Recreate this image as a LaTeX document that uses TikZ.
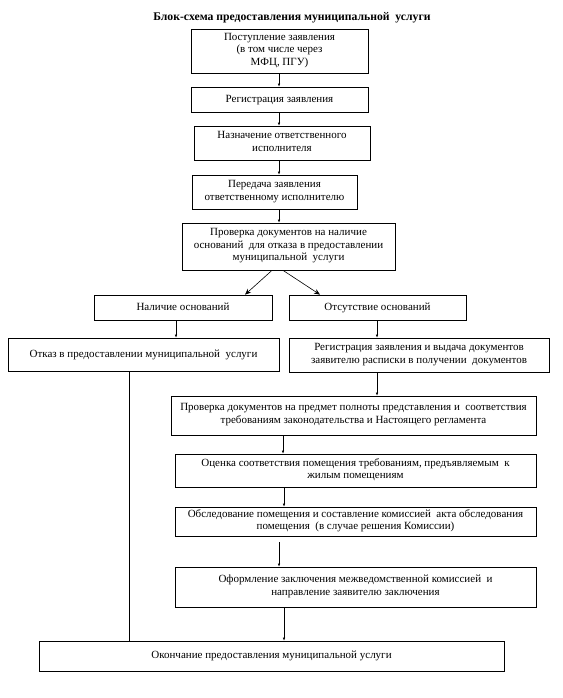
\documentclass[tikz,border=0pt]{standalone}
\usepackage{fontspec}
\setmainfont{Liberation Serif}
\usetikzlibrary{arrows.meta,shadows}
\begin{document}
\begin{tikzpicture}[x=1pt,y=-1pt,
  box/.style={draw=black,line width=0.7pt,fill=white,inner sep=0pt,align=center,
    font=\fontsize{11}{12.6}\selectfont,
    execute at begin node=\strut, execute at end node=\strut,
    drop shadow={shadow xshift=0pt,shadow yshift=-1.2pt,fill=gray!80,opacity=1}},
  arr/.style={line width=0.6pt,-{Latex[length=3pt,width=2.6pt]}},
  darr/.style={line width=0.6pt,-{Stealth[length=6pt,width=5pt]}},
  ln/.style={line width=0.7pt}]
\useasboundingbox (0,0) rectangle (562,698);
\node[font=\bfseries\fontsize{11.7}{13}\selectfont] (title) at (292,18) {Блок-схема предоставления муниципальной~ услуги};
\node[box,minimum width=177,minimum height=44] (b1) at (279.5,51) {Поступление заявления\\(в том числе через\\МФЦ, ПГУ)};
\node[box,minimum width=177,minimum height=25] (b2) at (279.5,99.5) {Регистрация заявления};
\node[box,minimum width=176,minimum height=34] (b3) at (282,143) {Назначение ответственного\\исполнителя};
\node[box,minimum width=165,minimum height=34] (b4) at (274.5,192) {Передача заявления\\ответственному исполнителю};
\node[box,minimum width=213,minimum height=47] (b5) at (288.5,246.5) {Проверка документов на наличие\\оснований~ для отказа в предоставлении\\муниципальной~ услуги};
\node[box,minimum width=178,minimum height=25] (b6) at (183,307.5) {Наличие оснований};
\node[box,minimum width=177,minimum height=25] (b7) at (377.5,307.5) {Отсутствие оснований};
\node[box,minimum width=271,minimum height=33] (b8) at (143.5,354.5) {Отказ в предоставлении муниципальной~ услуги};
\node[box,minimum width=260,minimum height=34] (b9) at (419,355) {Регистрация заявления и выдача документов\\заявителю расписки в получении~ документов};
\node[box,minimum width=365,minimum height=39] (b10) at (353.5,415.5) {Проверка документов на предмет полноты представления и~ соответствия\\требованиям законодательства и Настоящего регламента};
\node[box,minimum width=361,minimum height=33] (b11) at (355.5,470.5) {Оценка соответствия помещения требованиям, предъявляемым~ к\\жилым помещениям};
\node[box,minimum width=361,minimum height=29] (b12) at (355.5,521.5) {Обследование помещения и составление комиссией~ акта обследования\\помещения~ (в случае решения Комиссии)};
\node[box,minimum width=361,minimum height=40] (b13) at (355.5,587) {Оформление заключения межведомственной комиссией~ и\\направление заявителю заключения};
\node[box,minimum width=465,minimum height=30] (b14) at (271.5,656) {Окончание предоставления муниципальной услуги};
\coordinate (xa) at (279,0);
\coordinate (xb) at (176,0);
\coordinate (xc) at (377,0);
\coordinate (xd) at (283,0);
\coordinate (xe) at (284,0);
\coordinate (xf) at (129,0);
\coordinate (d1) at (272,0);
\coordinate (d2) at (245,0);
\coordinate (d3) at (283,0);
\coordinate (d4) at (320,0);
\draw[arr] (b1.south -| xa) -- (b2.north -| xa);
\draw[arr] (b2.south -| xa) -- (b3.north -| xa);
\draw[arr] (b3.south -| xa) -- (b4.north -| xa);
\draw[arr] (b4.south -| xa) -- (b5.north -| xa);
\draw[darr] (b5.south -| d1) -- (b6.north -| d2);
\draw[darr] (b5.south -| d3) -- (b7.north -| d4);
\draw[arr] (b6.south -| xb) -- (b8.north -| xb);
\draw[arr] (b7.south -| xc) -- (b9.north -| xc);
\draw[arr] (b9.south -| xc) -- (b10.north -| xc);
\draw[arr] (b10.south -| xd) -- (b11.north -| xd);
\draw[arr] (b11.south -| xe) -- (b12.north -| xe);
\draw[arr,shorten <=6pt] (b12.south -| xa) -- (b13.north -| xa);
\draw[arr] (b13.south -| xe) -- (b14.north -| xe);
\draw[ln] (b8.south -| xf) -- (b14.north -| xf);
\end{tikzpicture}
\end{document}
